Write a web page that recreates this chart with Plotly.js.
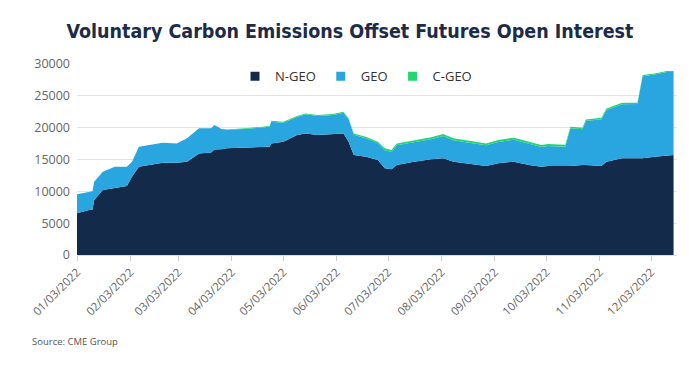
<!DOCTYPE html>
<html><head><meta charset="utf-8">
<script src="https://cdn.plot.ly/plotly-3.0.1.min.js"></script>
<style>html,body{margin:0;padding:0;background:#fff;}#chart{width:700px;height:366px;}</style>
</head><body><div id="chart"></div>
<script>
const dates = ["2022-01-03","2022-01-06","2022-01-10","2022-01-12","2022-01-13","2022-01-18","2022-01-25","2022-02-01","2022-02-04","2022-02-08","2022-02-14","2022-02-22","2022-03-02","2022-03-08","2022-03-15","2022-03-22","2022-03-24","2022-03-28","2022-03-31","2022-04-11","2022-04-25","2022-04-26","2022-05-03","2022-05-11","2022-05-16","2022-05-23","2022-06-01","2022-06-07","2022-06-10","2022-06-13","2022-06-20","2022-06-27","2022-07-01","2022-07-05","2022-07-08","2022-07-18","2022-07-28","2022-08-04","2022-08-10","2022-08-19","2022-08-29","2022-09-05","2022-09-14","2022-09-23","2022-09-30","2022-10-04","2022-10-13","2022-10-14","2022-10-17","2022-10-24","2022-10-26","2022-11-04","2022-11-07","2022-11-16","2022-11-25","2022-11-28","2022-12-05","2022-12-12","2022-12-16"];
const total = [9530,9690,9940,10000,11500,13080,13870,13870,14650,17000,17270,17640,17530,18320,19890,19900,20410,19800,19730,19890,20250,21080,20930,21820,22240,21980,22140,22500,21460,19100,18580,17790,16750,16490,17530,17950,18480,19000,18320,17950,17530,18060,18420,17790,17270,17430,17270,17300,20150,19990,21300,21560,23030,23910,23910,28260,28520,28890,28890];
const nGeo = [6550,6800,7070,7100,8640,10200,10570,10830,12300,13870,14130,14500,14500,14650,15960,16100,16590,16600,16750,16900,17000,17530,17790,18840,19100,18840,18950,19100,17790,15700,15430,14920,13610,13450,14130,14650,15020,15180,14650,14290,13970,14400,14650,14130,13870,13970,13970,13970,13970,14130,14130,13970,14650,15180,15180,15180,15430,15590,15700];
const cGeo = [0,0,0,0,0,0,0,0,0,0,0,0,0,0,0,0,0,0,0,100,100,150,150,150,150,150,150,150,150,200,250,250,300,300,300,300,300,300,300,300,300,300,300,300,300,300,300,300,250,250,250,250,250,250,200,200,150,150,150];
const geo = total.map((t,i)=>t-nGeo[i]-cGeo[i]);
const tickDates = ["2022-01-03","2022-02-03","2022-03-03","2022-04-03","2022-05-03","2022-06-03","2022-07-03","2022-08-03","2022-09-03","2022-10-03","2022-11-03","2022-12-03"];
const tickLabels = ["01/03/2022","02/03/2022","03/03/2022","04/03/2022","05/03/2022","06/03/2022","07/03/2022","08/03/2022","09/03/2022","10/03/2022","11/03/2022","12/03/2022"];
const names = ["N-GEO","GEO","C-GEO"];
const colors = ["#142a4a","#29a6df","#22d672"];

const series = [nGeo, geo, cGeo];
const traces = series.map((s,i)=>({
  x: dates, y: s, name: names[i], type:'scatter', mode:'lines', stackgroup:'one',
  line:{width: 0, color: colors[i], shape:'linear'}, fillcolor: colors[i],
  showlegend:false, hoverinfo:'skip'
}));
names.forEach((n,i)=>traces.push({x:[null],y:[null],name:n,type:'scatter',mode:'markers',
  marker:{symbol:'square',size:9,color:colors[i]},showlegend:true}));

const layout = {
  width:700, height:366,
  margin:{l:77,r:23,t:64,b:111},
  paper_bgcolor:'#fff', plot_bgcolor:'#fff',
  title:{text:'<b>Voluntary Carbon Emissions Offset Futures Open Interest</b>', x:0.5, xanchor:'center', y:0.915, yanchor:'middle',
    font:{family:'DejaVu Sans Condensed, DejaVu Sans', size:19.5, color:'#1b2b48'}},
  font:{family:'Open Sans, Lato, sans-serif', color:'#666'},
  xaxis:{type:'date', range:['2022-01-03','2022-12-18'], tickvals:tickDates, ticktext:tickLabels, tickangle:-45,
    showgrid:false, ticks:'outside', ticklen:5, tickcolor:'#ccc', showline:true, linecolor:'#ddd',
    tickfont:{size:11.5, color:'#666'}, zeroline:false},
  yaxis:{range:[0,30000], tickvals:[0,5000,10000,15000,20000,25000,30000], tickformat:'d',
    showgrid:true, gridcolor:'#e3e3e3', zeroline:false, ticks:'', tickfont:{size:12.5, color:'#666'}, ticklabelstandoff:6},
  legend:{orientation:'h', traceorder:'normal', x:0.465, xanchor:'center', y:0.935, yanchor:'middle', font:{size:13, color:'#333'},
    itemwidth:30, bgcolor:'rgba(0,0,0,0)'},
  annotations:[{text:'Source: CME Group', xref:'paper', yref:'paper', x:-0.079, xanchor:'left', y:-0.41, yanchor:'top',
    showarrow:false, font:{family:'Open Sans', size:9.5, color:'#555'}}]
};
Plotly.newPlot('chart', traces, layout, {staticPlot:true, displayModeBar:false});
</script></body></html>
